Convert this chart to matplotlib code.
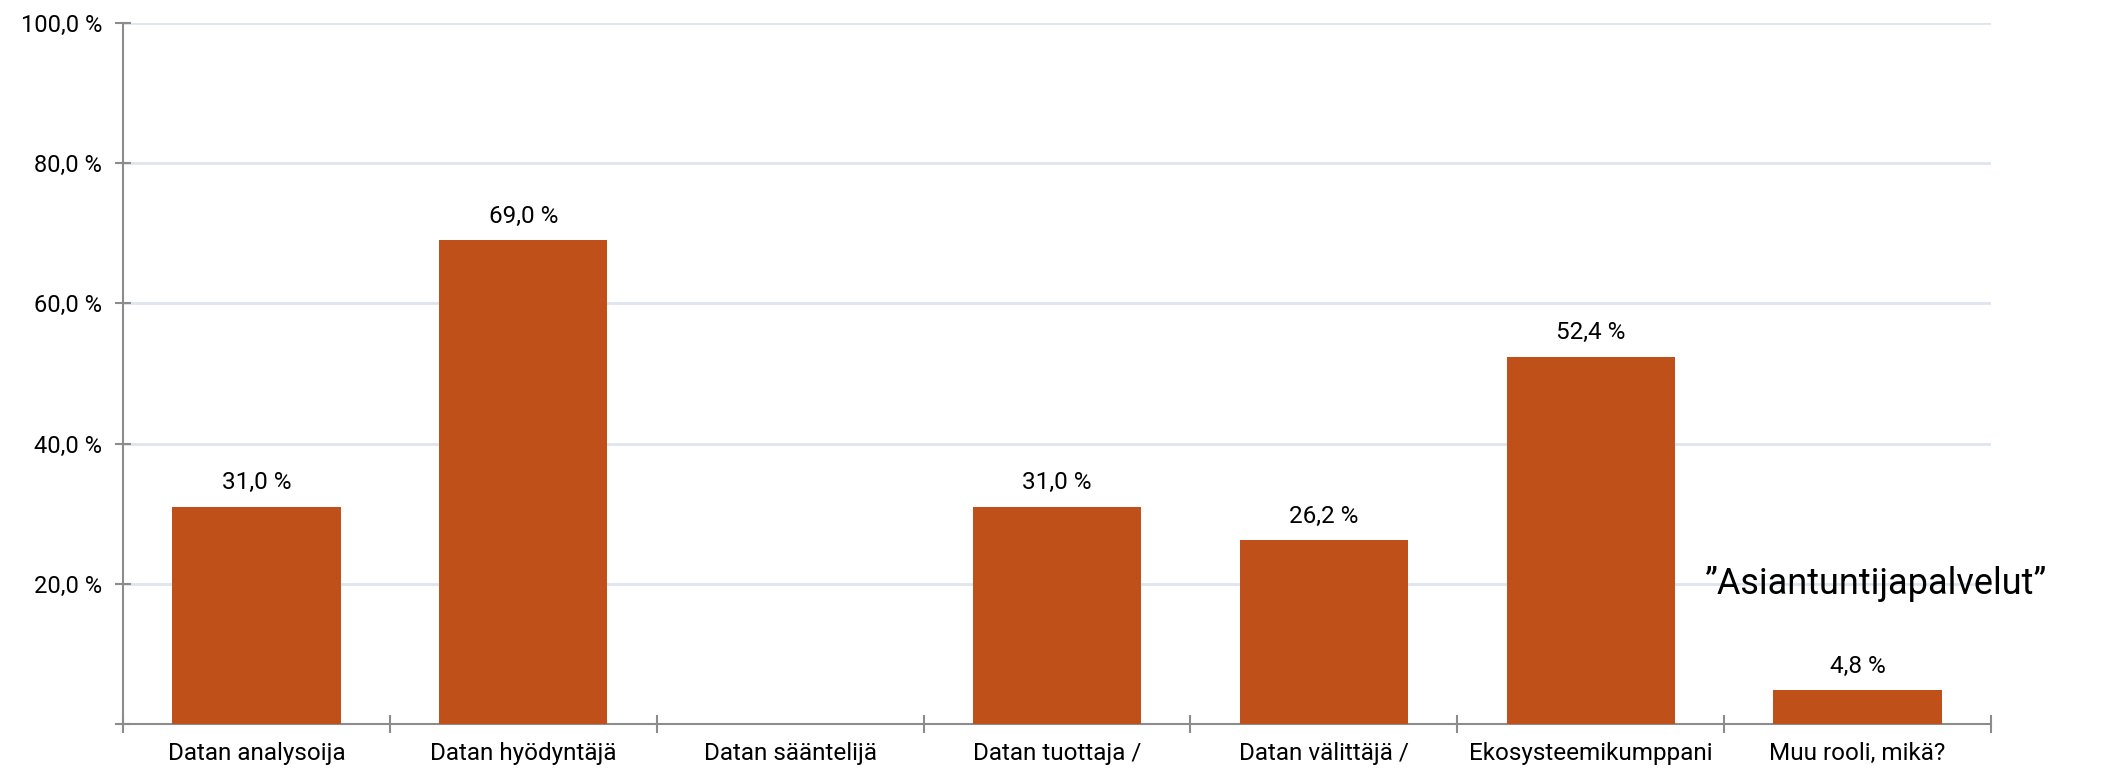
"""
roolit datataloudessa - pylväskaavio
"""
import matplotlib
matplotlib.use("Agg")
import matplotlib.pyplot as plt
import numpy as np

categories = ["Datan analysoija", "Datan hyödyntäjä", "Datan sääntelijä",
              "Datan tuottaja /", "Datan välittäjä /", "Ekosysteemikumppani",
              "Muu rooli, mikä?"]
values = [31.0, 69.0, 0.0, 31.0, 26.2, 52.4, 4.8]
yticks = [0, 20, 40, 60, 80, 100]
note = "\u201dAsiantuntijapalvelut\u201d"


def fmt(v):
    return ("%.1f" % v).replace(".", ",") + " %"


def draw_chart():
    plt.rcParams['font.family'] = ['Roboto', 'DejaVu Sans']
    fig = plt.figure(figsize=(21.14, 7.70), dpi=100)
    ax = fig.add_axes([0.0582, 0.0597, 0.8836, 0.9104])

    x = np.arange(len(categories))
    bars = ax.bar(x, values, width=0.63, color='#C0501A', zorder=3)

    for b, v in zip(bars, values):
        if v > 0:
            ax.annotate(fmt(v), (b.get_x() + b.get_width() / 2, v),
                        xytext=(0, 9), textcoords='offset points',
                        ha='center', va='bottom', fontsize=17.5, color='black')

    ax.set_xlim(-0.5, len(categories) - 0.5)
    ax.set_ylim(0, 100)

    ax.set_yticks(yticks)
    ax.set_yticklabels([fmt(t) if t > 0 else "" for t in yticks], fontsize=17)
    ax.yaxis.grid(True, color='#dfe5ee', linewidth=2, zorder=0)

    ax.set_xticks(x)
    ax.set_xticklabels(categories, fontsize=17.5)
    ax.set_xticks(np.arange(len(categories) + 1) - 0.5, minor=True)
    ax.tick_params(axis='x', which='major', length=0, pad=13)
    ax.tick_params(axis='x', which='minor', direction='inout', length=13,
                   width=1.5, color='#8c8c8c')
    ax.tick_params(axis='y', direction='inout', length=12, width=1.5,
                   color='#8c8c8c', pad=9)

    for s in ['top', 'right']:
        ax.spines[s].set_visible(False)
    for s in ['left', 'bottom']:
        ax.spines[s].set_color('#8c8c8c')
        ax.spines[s].set_linewidth(1.5)

    ax.text(6.07, 20, note, ha='center', va='center', fontsize=26,
            color='black', zorder=4)

    fig.savefig('out.png', dpi=100)


if __name__ == "__main__":
    draw_chart()
